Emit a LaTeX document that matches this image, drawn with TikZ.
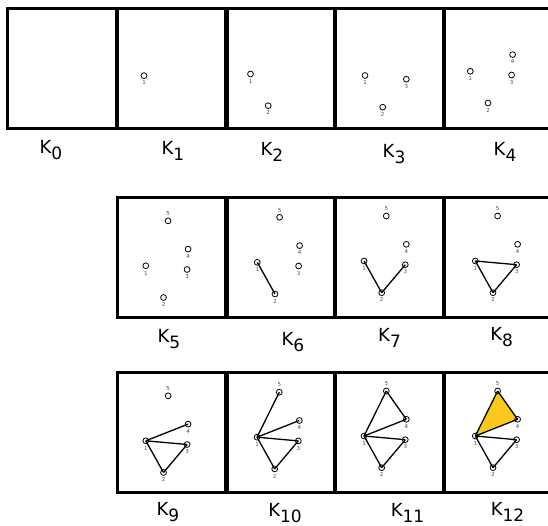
\documentclass[tikz,border=0pt]{standalone}
\usepackage{fontspec}
\setmainfont{DejaVu Sans}
\usetikzlibrary{backgrounds}
\definecolor{triyellow}{RGB}{251,201,30}
\newcommand{\kname}[1]{K\raisebox{-6pt}{\fontsize{17}{17}\selectfont #1}}

\begin{document}
\begin{tikzpicture}[x=1pt, y=-1pt,
    frame/.style={line width=3.5pt},
    vertex/.style={draw, circle, line width=0.8pt, minimum size=5.8pt, inner sep=0pt},
    vlab/.style={font=\fontsize{5.5}{5.5}\selectfont, text=black!70, inner sep=0.5pt, label distance=1.2pt},
    edge/.style={line width=1.3pt},
    klabel/.style={font=\fontsize{18}{18}\selectfont, inner sep=0pt},
]
    \useasboundingbox (0,0) rectangle (548,526);

    % the boxes
    \foreach \bx/\by in {7.3/8.3, 117.3/8.3, 226/8.3, 335/8.3, 443.3/8.3,
                         117.3/197.3, 226/197.3, 335/197.3, 443.3/197.3,
                         117.3/372.3, 226/372.3, 335/372.3, 443.3/372.3}
        \draw[frame] (\bx,\by) rectangle ++(109.6,120.4);

    % vertices, first \n of the five in each box
    \foreach \k/\ox/\oy/\n in {1/115/11.9/1, 2/221.5/10.3/2, 3/336/11.8/3, 4/441.3/7.6/4,
                               5/116.8/202.1/5, 6/228.3/198.6/5, 7/335/197.3/5, 8/446.3/197.3/5,
                               9/116.8/377.1/5, 10/228/373.5/5, 11/335/372.3/5, 12/446.3/372.3/5}
        \foreach \v/\px/\py in {1/29/63.7, 2/46.7/95.4, 3/70.3/67.4, 4/71.3/47, 5/51.3/18.7} {
            \ifnum\v>\n\relax\else
                \ifnum\v=5
                    \node[vertex, label={[vlab]above:\v}] (k\k-\v) at (\ox+\px,\oy+\py) {};
                \else
                    \node[vertex, label={[vlab]below:\v}] (k\k-\v) at (\ox+\px,\oy+\py) {};
                \fi
            \fi
        };

    % edges
    \foreach \k/\a/\b in {6/1/2, 7/1/2, 7/2/3, 8/1/2, 8/2/3, 8/1/3,
                          9/1/2, 9/2/3, 9/1/3, 9/1/4,
                          10/1/2, 10/2/3, 10/1/3, 10/1/4, 10/1/5,
                          11/1/2, 11/2/3, 11/1/3, 11/1/4, 11/1/5, 11/4/5,
                          12/1/2, 12/2/3, 12/1/3, 12/1/4, 12/1/5, 12/4/5}
        \draw[edge] (k\k-\a.center) -- (k\k-\b.center);

    \begin{pgfonlayer}{background}
        \fill[triyellow] (k12-1.center) -- (k12-4.center) -- (k12-5.center) -- cycle;
    \end{pgfonlayer}

    % names under the boxes
    \foreach \k/\lx/\ly in {0/51/150, 1/173/151, 2/272/152, 3/394/154, 4/505/152,
                            5/169/339, 6/293/342, 7/389.5/338, 8/501.7/337,
                            9/168/512, 10/285/513, 11/407.5/513, 12/507.5/512}
        \node[klabel] (lab\k) at (\lx,\ly) {\kname{\k}};
\end{tikzpicture}
\end{document}
